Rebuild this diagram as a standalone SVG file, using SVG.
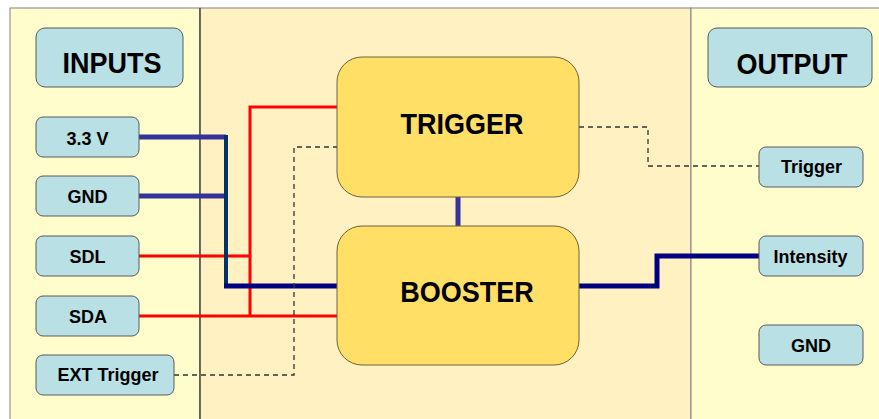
<svg xmlns="http://www.w3.org/2000/svg" width="879" height="419" viewBox="0 0 879 419">
<style>
.panel{stroke:#808080;stroke-width:1}
.io{fill:#B9E0E5;stroke:#5A5A5A;stroke-width:1}
.blk{fill:#FFDF66;stroke:#6E6040;stroke-width:1}
text{font-family:"Liberation Sans",Arial,sans-serif;font-weight:bold;fill:#000;text-anchor:middle}
.big{font-size:27px}
.sm{font-size:18px}
.red{stroke:#FF0000;stroke-width:3;fill:none}
.dash{stroke:#333333;stroke-width:1.3;stroke-dasharray:5,4;fill:none}
</style>
<rect x="0" y="0" width="879" height="419" fill="#FFFFFF"/>
<g id="panels">
<rect class="panel" x="10" y="8" width="190" height="420" fill="#FFFDCC"/>
<rect class="panel" x="200" y="8" width="491" height="420" fill="#FFF1C1"/>
<rect class="panel" x="691" y="8" width="200" height="420" fill="#FFFDCC"/>
<line x1="200" y1="8" x2="200" y2="419" stroke="#222" stroke-width="1"/>
</g>
<g id="connectors">
<polyline class="red" points="337,107 250,107 250,316"/>
<line class="red" x1="139" y1="256" x2="250" y2="256"/>
<line class="red" x1="139" y1="316" x2="337" y2="316"/>
<line x1="139" y1="137" x2="226" y2="137" stroke="#333399" stroke-width="5"/>
<line x1="139" y1="196" x2="226" y2="196" stroke="#333399" stroke-width="5"/>
<line x1="226" y1="135" x2="226" y2="288" stroke="#003366" stroke-width="4"/>
<line x1="224" y1="286" x2="337" y2="286" stroke="#000080" stroke-width="5"/>
<polyline class="dash" points="174,375 294,375 294,147 337,147"/>
<line x1="458" y1="197" x2="458" y2="226" stroke="#333399" stroke-width="5"/>
<polyline class="dash" points="579,127 648,127 648,166 759,166"/>
<polyline points="579,286 657,286 657,256 759,256" fill="none" stroke="#000080" stroke-width="5"/>
</g>
<g id="inputs"><rect class="io" x="36" y="28" width="147" height="59" rx="9"/><text class="big" transform="translate(112,73) scale(1,1.1)">INPUTS</text></g>
<g id="in-3v3"><rect class="io" x="36" y="117" width="103" height="40" rx="7"/><text class="sm" x="87.5" y="145">3.3 V</text></g>
<g id="in-gnd"><rect class="io" x="36" y="176" width="103" height="40" rx="7"/><text class="sm" x="87.5" y="203">GND</text></g>
<g id="in-sdl"><rect class="io" x="36" y="236" width="103" height="40" rx="7"/><text class="sm" x="87.5" y="263">SDL</text></g>
<g id="in-sda"><rect class="io" x="36" y="296" width="103" height="40" rx="7"/><text class="sm" x="88" y="323">SDA</text></g>
<g id="in-ext"><rect class="io" x="36" y="355" width="138" height="40" rx="7"/><text class="sm" x="108" y="381">EXT Trigger</text></g>
<g id="trigger"><rect class="blk" x="337" y="57" width="242" height="140" rx="25"/><text class="big" transform="translate(462,134) scale(1,1.1)">TRIGGER</text></g>
<g id="booster"><rect class="blk" x="337" y="226" width="242" height="139" rx="25"/><text class="big" transform="translate(467,302) scale(1,1.1)">BOOSTER</text></g>
<g id="output"><rect class="io" x="708" y="28" width="164" height="59" rx="9"/><text class="big" transform="translate(792,74) scale(1,1.1)">OUTPUT</text></g>
<g id="out-trigger"><rect class="io" x="759" y="147" width="104" height="40" rx="7"/><text class="sm" x="811.5" y="173">Trigger</text></g>
<g id="out-intensity"><rect class="io" x="759" y="236" width="104" height="40" rx="7"/><text class="sm" x="810.5" y="263">Intensity</text></g>
<g id="out-gnd"><rect class="io" x="759" y="325" width="104" height="40" rx="7"/><text class="sm" x="811" y="352">GND</text></g>
</svg>
